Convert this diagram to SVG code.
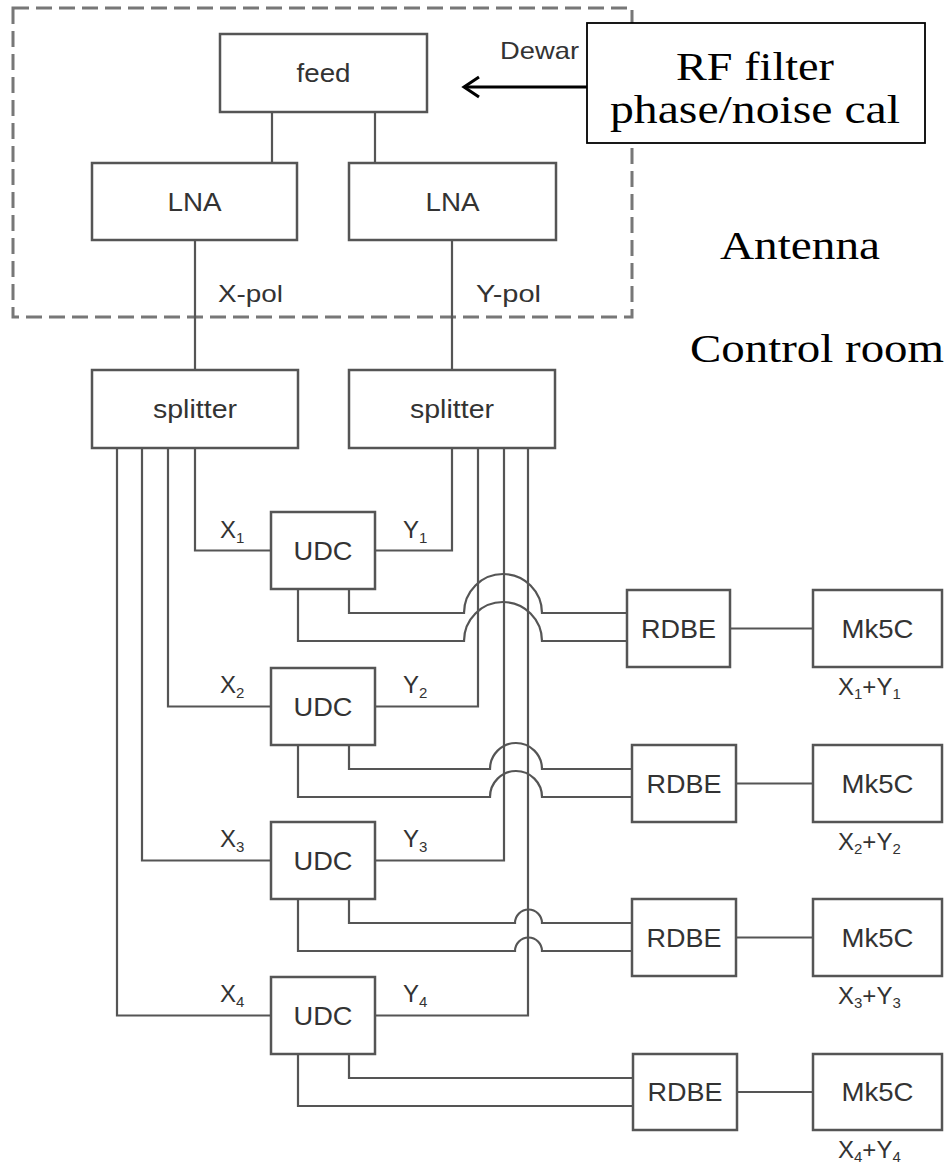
<svg xmlns="http://www.w3.org/2000/svg" width="947" height="1163" viewBox="0 0 947 1163">
<style>
.box{fill:#fff;stroke:#555;stroke-width:2.5}
.t{font-family:"Liberation Sans",Arial,sans-serif;font-size:26px;fill:#333;text-anchor:middle}
.l{font-family:"Liberation Sans",Arial,sans-serif;font-size:24px;fill:#333}
.s{font-size:15px}
.w{fill:none;stroke:#555;stroke-width:2.2}
.tm{font-family:"Liberation Serif","Times New Roman",serif;font-size:41px;fill:#000}
</style>
<defs>
<marker id="ah" markerWidth="22" markerHeight="26" refX="18" refY="12" orient="auto" markerUnits="userSpaceOnUse">
<path d="M3,2 L18,12 L3,22" fill="none" stroke="#000" stroke-width="3"/>
</marker>
</defs>
<rect width="947" height="1163" fill="#fff"/>
<g id="dewar">
<rect x="13" y="8" width="619" height="309" fill="none" stroke="#777" stroke-width="3" stroke-dasharray="16 7"/>
<text class="l" x="500" y="59" textLength="79" lengthAdjust="spacingAndGlyphs">Dewar</text>
</g>
<g id="connectors">
<path class="w" d="M272 112V163M375 112V163M195 240V370M452 240V370"/>
<path class="w" d="M195 448V550.5H271M168 448V706.5H271M142 448V860.5H271M117 448V1015.5H271"/>
<path class="w" d="M452 448V550.5H375M478 448V706.5H375M504 448V860.5H375M528 448V1015.5H375"/>
<path class="w" d="M349 589V613H464A39 39 0 0 1 542 613H627M298 589V641H464A39 39 0 0 1 542 641H627"/>
<path class="w" d="M349 745V769H490A26 26 0 0 1 542 769H632M298 745V797H490A26 26 0 0 1 542 797H632"/>
<path class="w" d="M349 899V923H515A13.5 13.5 0 0 1 542 923H632M298 899V951H515A13.5 13.5 0 0 1 542 951H632"/>
<path class="w" d="M349 1054V1078H633M298 1054V1106H633"/>
<path class="w" d="M730 628.5H813M736 783.5H813M736 937.5H813M737 1092H813"/>
<path d="M587 87H464" fill="none" stroke="#000" stroke-width="3" marker-end="url(#ah)"/>
</g>
<g id="rf">
<rect x="587" y="23" width="338" height="120" fill="#fff" stroke="#000" stroke-width="1.8"/>
<text class="tm" x="755" y="80" text-anchor="middle" textLength="158" lengthAdjust="spacingAndGlyphs">RF filter</text>
<text class="tm" x="755" y="123" text-anchor="middle" textLength="290" lengthAdjust="spacingAndGlyphs">phase/noise cal</text>
</g>
<g id="antenna"><text class="tm" x="720" y="259" textLength="160" lengthAdjust="spacingAndGlyphs">Antenna</text></g>
<g id="control"><text class="tm" x="690" y="362" textLength="254" lengthAdjust="spacingAndGlyphs">Control room</text></g>
<g id="feed"><rect class="box" x="220" y="34" width="207" height="78"/><text class="t" x="323.5" y="82" textLength="54" lengthAdjust="spacingAndGlyphs">feed</text></g>
<g id="lna1"><rect class="box" x="92" y="163" width="205" height="77"/><text class="t" x="194.5" y="211" textLength="54" lengthAdjust="spacingAndGlyphs">LNA</text></g>
<g id="lna2"><rect class="box" x="349" y="163" width="207" height="77"/><text class="t" x="452.5" y="211" textLength="54" lengthAdjust="spacingAndGlyphs">LNA</text></g>
<g id="xpol"><text class="l" x="218" y="302" textLength="65" lengthAdjust="spacingAndGlyphs">X-pol</text></g>
<g id="ypol"><text class="l" x="476" y="302" textLength="65" lengthAdjust="spacingAndGlyphs">Y-pol</text></g>
<g id="split1"><rect class="box" x="92" y="370" width="206" height="78"/><text class="t" x="195" y="418" textLength="84" lengthAdjust="spacingAndGlyphs">splitter</text></g>
<g id="split2"><rect class="box" x="349" y="370" width="206" height="78"/><text class="t" x="452" y="418" textLength="84" lengthAdjust="spacingAndGlyphs">splitter</text></g>
<g id="udc1"><rect class="box" x="271" y="512" width="104" height="77"/><text class="t" x="323" y="559.5" textLength="59" lengthAdjust="spacingAndGlyphs">UDC</text></g>
<g id="udc2"><rect class="box" x="271" y="668" width="104" height="77"/><text class="t" x="323" y="715.5" textLength="59" lengthAdjust="spacingAndGlyphs">UDC</text></g>
<g id="udc3"><rect class="box" x="271" y="822" width="104" height="77"/><text class="t" x="323" y="869.5" textLength="59" lengthAdjust="spacingAndGlyphs">UDC</text></g>
<g id="udc4"><rect class="box" x="271" y="977" width="104" height="77"/><text class="t" x="323" y="1024.5" textLength="59" lengthAdjust="spacingAndGlyphs">UDC</text></g>
<g id="labels">
<text class="l" x="220" y="538">X<tspan class="s" dy="5">1</tspan></text>
<text class="l" x="403" y="538">Y<tspan class="s" dy="5">1</tspan></text>
<text class="l" x="220" y="693">X<tspan class="s" dy="5">2</tspan></text>
<text class="l" x="403" y="693">Y<tspan class="s" dy="5">2</tspan></text>
<text class="l" x="220" y="847">X<tspan class="s" dy="5">3</tspan></text>
<text class="l" x="403" y="847">Y<tspan class="s" dy="5">3</tspan></text>
<text class="l" x="220" y="1002">X<tspan class="s" dy="5">4</tspan></text>
<text class="l" x="403" y="1002">Y<tspan class="s" dy="5">4</tspan></text>
</g>
<g id="rdbe1"><rect class="box" x="627" y="590" width="103" height="77"/><text class="t" x="678.5" y="637.5" textLength="75" lengthAdjust="spacingAndGlyphs">RDBE</text></g>
<g id="rdbe2"><rect class="box" x="632" y="745" width="104" height="77"/><text class="t" x="684" y="792.5" textLength="75" lengthAdjust="spacingAndGlyphs">RDBE</text></g>
<g id="rdbe3"><rect class="box" x="632" y="899" width="104" height="77"/><text class="t" x="684" y="946.5" textLength="75" lengthAdjust="spacingAndGlyphs">RDBE</text></g>
<g id="rdbe4"><rect class="box" x="633" y="1054" width="104" height="76"/><text class="t" x="685" y="1101" textLength="75" lengthAdjust="spacingAndGlyphs">RDBE</text></g>
<g id="mk1"><rect class="box" x="813" y="590" width="129" height="77"/><text class="t" x="877.5" y="637.5" textLength="72" lengthAdjust="spacingAndGlyphs">Mk5C</text><text class="l" x="838" y="695">X<tspan class="s" dy="4">1</tspan><tspan dy="-4">+Y</tspan><tspan class="s" dy="4">1</tspan></text></g>
<g id="mk2"><rect class="box" x="813" y="745" width="129" height="77"/><text class="t" x="877.5" y="792.5" textLength="72" lengthAdjust="spacingAndGlyphs">Mk5C</text><text class="l" x="838" y="850">X<tspan class="s" dy="4">2</tspan><tspan dy="-4">+Y</tspan><tspan class="s" dy="4">2</tspan></text></g>
<g id="mk3"><rect class="box" x="813" y="899" width="129" height="77"/><text class="t" x="877.5" y="946.5" textLength="72" lengthAdjust="spacingAndGlyphs">Mk5C</text><text class="l" x="838" y="1004">X<tspan class="s" dy="4">3</tspan><tspan dy="-4">+Y</tspan><tspan class="s" dy="4">3</tspan></text></g>
<g id="mk4"><rect class="box" x="813" y="1054" width="129" height="76"/><text class="t" x="877.5" y="1101" textLength="72" lengthAdjust="spacingAndGlyphs">Mk5C</text><text class="l" x="838" y="1158">X<tspan class="s" dy="4">4</tspan><tspan dy="-4">+Y</tspan><tspan class="s" dy="4">4</tspan></text></g>
</svg>
